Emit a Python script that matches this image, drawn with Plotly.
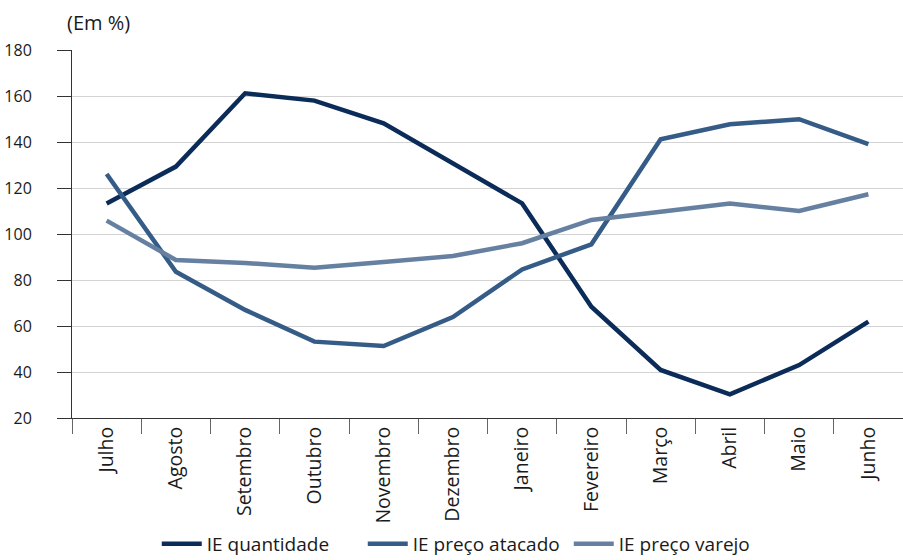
import plotly.graph_objects as go

months = ["Julho", "Agosto", "Setembro", "Outubro", "Novembro", "Dezembro",
          "Janeiro", "Fevereiro", "Março", "Abril", "Maio", "Junho"]
ie_quantidade = [113.3, 129.3, 161.2, 158.0, 148.1, 130.9, 113.3, 68.4, 40.9, 30.3, 43.0, 61.9]
ie_preco_atacado = [126.1, 83.6, 67.0, 53.2, 51.3, 63.9, 84.6, 95.5, 141.2, 147.7, 149.9, 139.1]
ie_preco_varejo = [105.8, 88.7, 87.4, 85.3, 87.8, 90.4, 96.0, 106.1, 109.7, 113.3, 110.0, 117.3]
y_ticks = [20, 40, 60, 80, 100, 120, 140, 160, 180]

FONT = "Open Sans, Noto Sans, sans-serif"
fig = go.Figure()
series = [
    ("IE quantidade", ie_quantidade, "#0b2b58"),
    ("IE preço atacado", ie_preco_atacado, "#355b87"),
    ("IE preço varejo", ie_preco_varejo, "#6680a1"),
]
for name, vals, col in series:
    fig.add_trace(go.Scatter(x=months, y=vals, name=name, mode="lines",
                             line=dict(color=col, width=4.5)))

fig.update_layout(
    width=903, height=560,
    margin=dict(l=72, r=0, t=50, b=142, autoexpand=False),
    plot_bgcolor="white", paper_bgcolor="white",
    font=dict(family=FONT, size=15, color="#1a1a1a"),
    showlegend=True,
    legend=dict(orientation="h", x=0.102, xanchor="left", y=-0.342, yanchor="middle",
                font=dict(size=19), itemwidth=40, entrywidth=151,
                bgcolor="rgba(0,0,0,0)"),
    annotations=[dict(text="(Em %)", xref="paper", yref="paper", x=-0.008, y=1.076,
                      xanchor="left", yanchor="middle", showarrow=False,
                      font=dict(size=20, family=FONT, color="#1a1a1a"))],
)
fig.update_yaxes(range=[20, 180], tickvals=y_ticks, showgrid=True, gridcolor="#d3d3d3",
                 gridwidth=1, showline=True, linecolor="#333333", linewidth=1,
                 ticks="outside", ticklen=14, tickcolor="#333333", automargin=False,
                 ticklabelstandoff=22, zeroline=False, tickfont=dict(size=16))
fig.update_xaxes(type="category", tickson="boundaries", showgrid=False, showline=True,
                 linecolor="#333333", linewidth=1, ticks="outside", ticklen=15,
                 tickcolor="#666666", tickangle=-90, tickfont=dict(size=19.5),
                 range=[-0.5, 11.5], automargin=False)

fig.write_html("out.html")
